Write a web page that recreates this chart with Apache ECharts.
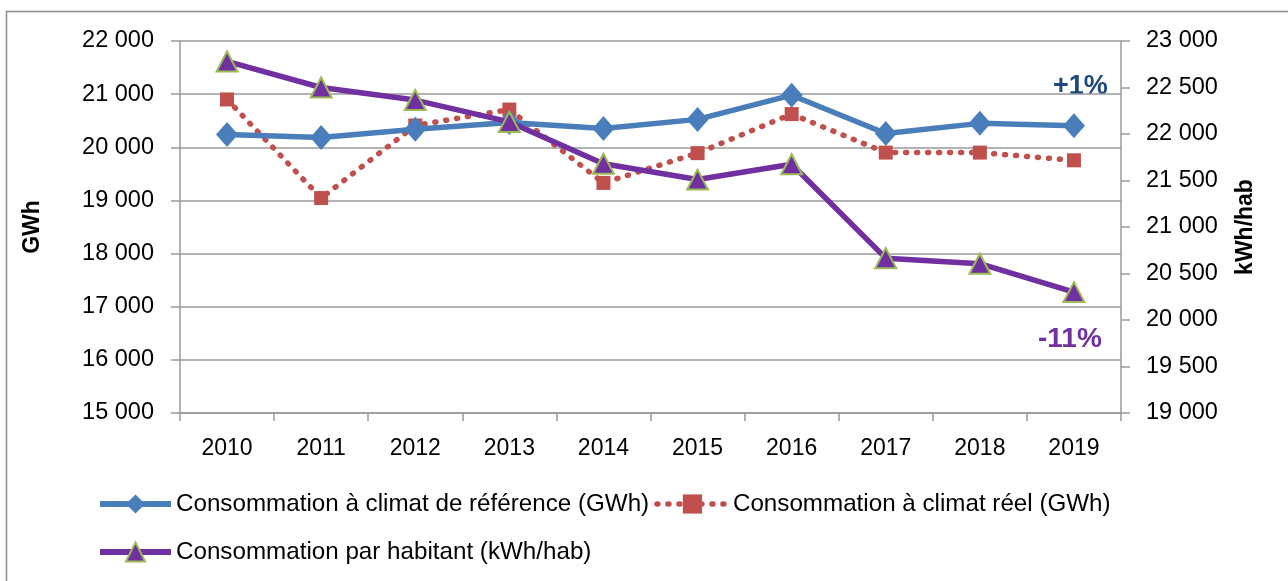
<!DOCTYPE html>
<html>
<head>
<meta charset="utf-8">
<script src="https://cdn.jsdelivr.net/npm/echarts@6/dist/echarts.min.js"></script>
<style>
html,body{margin:0;padding:0;background:#fff;}
#chart{width:1288px;height:581px;}
</style>
</head>
<body>
<div id="chart"></div>
<script>
const years = ['2010','2011','2012','2013','2014','2015','2016','2017','2018','2019'];
const consoReference = [20240, 20185, 20340, 20465, 20355, 20525, 20980, 20260, 20450, 20405];
const consoReel = [20900, 19045, 20410, 20710, 19330, 19890, 20625, 19900, 19900, 19755];
const consoHabitant = [22780, 22500, 22365, 22130, 21680, 21510, 21675, 20665, 20605, 20300];
const leftTicks = {min: 15000, max: 22000, interval: 1000};
const rightTicks = {min: 19000, max: 23000, interval: 500};
const seriesNames = ['Consommation à climat de référence (GWh)', 'Consommation à climat réel (GWh)', 'Consommation par habitant (kWh/hab)'];
const annotations = [{text: '+1%', color: '#1F497D'}, {text: '-11%', color: '#7030A0'}];

const FONT = 'Liberation Sans';
const fmt = v => String(v).replace(/\B(?=(\d{3})+(?!\d))/g, ' ');
const axisGray = '#9a9a9a';
const dotted = {width: 5.5, type: [1, 10], cap: 'round'};

const chart = echarts.init(document.getElementById('chart'), null, {renderer: 'canvas'});
chart.setOption({
  backgroundColor: '#fff',
  animation: false,
  textStyle: {fontFamily: FONT},
  grid: {left: 180, right: 167, top: 41, bottom: 168},
  graphic: [
    {type: 'rect', shape: {x: 6.5, y: 11.5, width: 1300, height: 600}, style: {fill: null, stroke: '#8c8c8c', lineWidth: 1.5}, silent: true},
    {type: 'text', left: 1053, top: 73, style: {text: annotations[0].text, fill: annotations[0].color, font: 'bold 27px ' + FONT}},
    {type: 'text', left: 1038, top: 325, style: {text: annotations[1].text, fill: annotations[1].color, font: 'bold 28px ' + FONT}}
  ],
  legend: [
    {data: [
       {name: seriesNames[0], lineStyle: {width: 6}},
       {name: seriesNames[1], lineStyle: {width: 5.5, type: [1, 10], cap: 'round'}}
     ], left: 92, top: 487, itemWidth: 71, itemHeight: 24, itemGap: 5,
     textStyle: {fontFamily: FONT, fontSize: 24.2, color: '#000'}},
    {data: [{name: seriesNames[2], lineStyle: {width: 6}}], left: 92, top: 535, itemWidth: 71, itemHeight: 24, itemGap: 5,
     textStyle: {fontFamily: FONT, fontSize: 24.2, color: '#000'}}
  ],
  xAxis: {
    type: 'category', data: years, boundaryGap: true,
    axisLine: {lineStyle: {color: axisGray, width: 1.5}},
    axisTick: {show: true, interval: 0, length: 8, lineStyle: {color: axisGray, width: 1.5}},
    axisLabel: {fontSize: 23, color: '#000', margin: 24, fontFamily: FONT, interval: 0},
    splitLine: {show: false}
  },
  yAxis: [
    {type: 'value', min: leftTicks.min, max: leftTicks.max, interval: leftTicks.interval, position: 'left',
     name: 'GWh', nameLocation: 'middle', nameRotate: 90, nameGap: 136,
     nameTextStyle: {fontSize: 23, fontWeight: 'bold', color: '#000', fontFamily: FONT},
     axisLine: {show: true, lineStyle: {color: axisGray, width: 1.5}},
     axisTick: {show: true, length: 9, lineStyle: {color: axisGray, width: 1.5}},
     axisLabel: {fontSize: 23.5, color: '#000', margin: 26, formatter: fmt, fontFamily: FONT},
     splitLine: {show: true, lineStyle: {color: axisGray, width: 1.5}}},
    {type: 'value', min: rightTicks.min, max: rightTicks.max, interval: rightTicks.interval, position: 'right',
     name: 'kWh/hab', nameLocation: 'middle', nameRotate: 90, nameGap: 113,
     nameTextStyle: {fontSize: 23, fontWeight: 'bold', color: '#000', fontFamily: FONT},
     axisLine: {show: true, lineStyle: {color: axisGray, width: 1.5}},
     axisTick: {show: true, length: 9, lineStyle: {color: axisGray, width: 1.5}},
     axisLabel: {fontSize: 23.5, color: '#000', margin: 25, formatter: fmt, fontFamily: FONT},
     splitLine: {show: false}}
  ],
  series: [
    {name: seriesNames[0], type: 'line', yAxisIndex: 0, data: consoReference,
     symbol: 'diamond', symbolSize: [22, 25], z: 3,
     lineStyle: {color: '#4A7EBB', width: 5.5},
     itemStyle: {color: '#4A7EBB'}},
    {name: seriesNames[1], type: 'line', yAxisIndex: 0, data: consoReel,
     symbol: 'rect', symbolSize: 14, z: 2,
     lineStyle: Object.assign({color: '#C0504D'}, dotted),
     itemStyle: {color: '#C0504D'}},
    {name: seriesNames[2], type: 'line', yAxisIndex: 1, data: consoHabitant,
     symbol: 'triangle', symbolSize: [21, 20], z: 4,
     lineStyle: {color: '#7030A0', width: 5.5},
     itemStyle: {color: '#7030A0', borderColor: '#9BBB59', borderWidth: 2}}
  ]
});
</script>
</body>
</html>
